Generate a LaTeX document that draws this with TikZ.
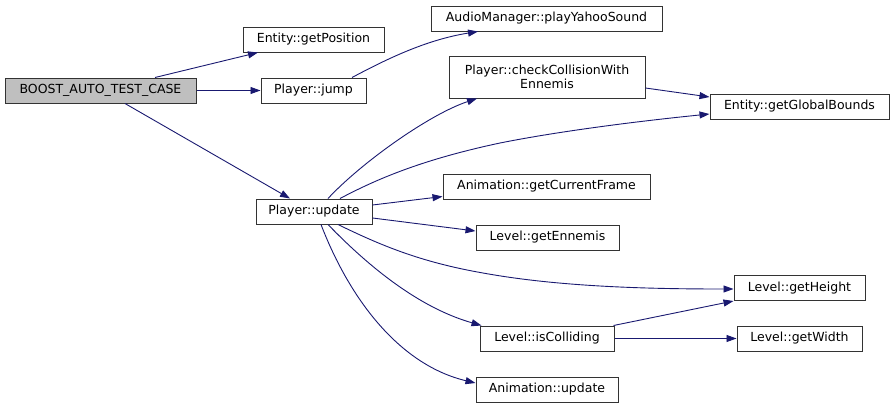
\documentclass[tikz,border=0pt]{standalone}
\usepackage{fontspec}
\setmainfont{DejaVu Sans}
\usetikzlibrary{arrows.meta}
\definecolor{edgecol}{HTML}{191970}
\begin{document}
\begin{tikzpicture}[x=1pt,y=-1pt,
  fn/.style={draw=black!80, line width=1pt, fill=white, rectangle, inner sep=0pt,
    minimum height=25pt, font=\fontsize{12.5}{14.5}\selectfont, align=center},
  call/.style={draw=edgecol, line width=0.9pt, -{Triangle[length=10pt,width=7pt,fill=edgecol]}}]
\useasboundingbox (0,0) rectangle (895,408);
% nodes
\node[fn, fill=black!25, minimum width=191pt] (boost) at (100.5,90.5) {BOOST\_AUTO\_TEST\_CASE};
\node[fn, minimum width=141pt] (pos) at (313.5,39.5) {Entity::getPosition};
\node[fn, minimum width=105pt] (jump) at (313.5,90.5) {Player::jump};
\node[fn, minimum width=231pt] (audio) at (546.5,18.5) {AudioManager::playYahooSound};
\node[fn, minimum width=196pt, minimum height=42pt] (check) at (547,77) {Player::checkCollisionWith\\Ennemis};
\node[fn, minimum width=179pt] (bounds) at (799.5,106.5) {Entity::getGlobalBounds};
\node[fn, minimum width=207pt] (frame) at (546.5,186.5) {Animation::getCurrentFrame};
\node[fn, minimum width=116pt] (update) at (314,211.5) {Player::update};
\node[fn, minimum width=143pt] (ennemis) at (547.5,237.5) {Level::getEnnemis};
\node[fn, minimum width=131pt] (height) at (799.5,288) {Level::getHeight};
\node[fn, minimum width=134pt] (colliding) at (547,338.5) {Level::isColliding};
\node[fn, minimum width=125pt] (width) at (799.5,338.5) {Level::getWidth};
\node[fn, minimum width=142pt] (animupd) at (547,389.5) {Animation::update};
% edges
\draw[call] ([xshift=54.5pt]boost.north) -- ([xshift=-55.5pt]pos.south);
\draw[call] (boost.east) -- (jump.west);
\draw[call] ([xshift=24.5pt]boost.south) -- ([xshift=-24pt]update.north);
\draw[call] ([xshift=38.5pt]jump.north) .. controls (385,60) and (425,40) .. ([xshift=-68.5pt]audio.south);
\draw[call] ([yshift=-11pt]check.east) -- ([yshift=9.5pt]bounds.west);
\draw[call] ([xshift=14pt]update.north) .. controls (362,162) and (430,114) .. ([xshift=-70pt]check.south);
\draw[call] ([xshift=26pt]update.north) .. controls (375,180) and (420,160) .. (500,143)
   .. controls (560,131) and (640,121) .. ([yshift=-7.5pt]bounds.west);
\draw[call] ([yshift=6.5pt]update.east) -- ([yshift=-10pt]frame.west);
\draw[call] ([yshift=-6.5pt]update.east) -- ([yshift=6.5pt]ennemis.west);
\draw[call] ([xshift=24pt]update.south) .. controls (380,245) and (420,262) .. (483,273)
   .. controls (560,287) and (650,289) .. ([yshift=-1pt]height.west);
\draw[call] ([xshift=14pt]update.south) .. controls (370,268) and (420,308) .. ([xshift=2pt]colliding.north west);
\draw[call] ([xshift=7pt]update.south) .. controls (350,300) and (400,365) .. ([yshift=6.5pt]animupd.west);
\draw[call] ([xshift=-1pt]colliding.north east) -- (height.south west);
\draw[call] (colliding.east) -- (width.west);
\end{tikzpicture}
\end{document}
